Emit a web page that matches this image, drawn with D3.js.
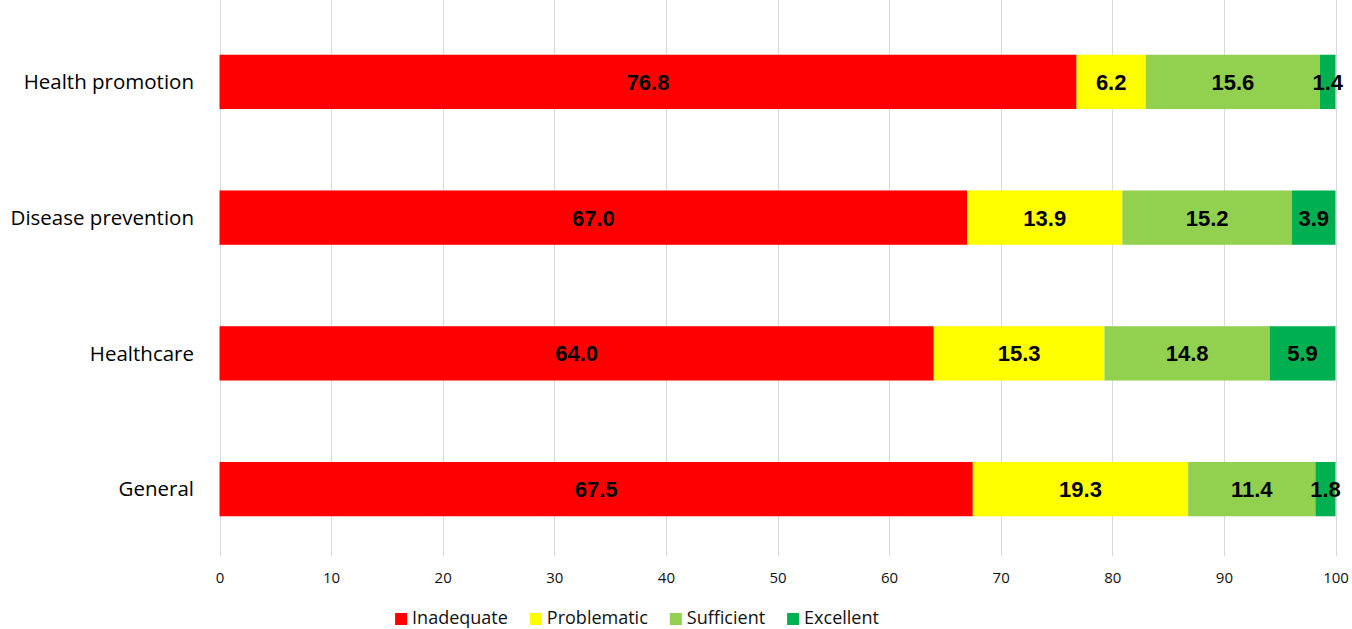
<!DOCTYPE html>
<html>
<head>
<meta charset="utf-8">
<script src="https://cdnjs.cloudflare.com/ajax/libs/d3/7.8.5/d3.min.js"></script>
<style>
  body { margin: 0; background: #fff; }
  svg { display: block; }
</style>
</head>
<body>
<div class="canvas"></div>
<script>
// data
const categories = ['Health promotion', 'Disease prevention', 'Healthcare', 'General']
const levels = ['Inadequate', 'Problematic', 'Sufficient', 'Excellent']
const inadequate = [76.8, 67.0, 64.0, 67.5]
const problematic = [6.2, 13.9, 15.3, 19.3]
const sufficient = [15.6, 15.2, 14.8, 11.4]
const excellent = [1.4, 3.9, 5.9, 1.8]
const xTicks = [0, 10, 20, 30, 40, 50, 60, 70, 80, 90, 100]

const colors = ['#ff0000', '#ffff00', '#92d050', '#00b050']

// graph setup
const dims = { width: 1352, height: 629 }

const svg = d3.select('.canvas')
  .append('svg')
  .attr('width', dims.width)
  .attr('height', dims.height)

const x = d3.scaleLinear()
  .domain([0, 100])
  .range([219.5, 1335.5])

const y = d3.scaleBand()
  .domain(categories)
  .range([14, 557])
  .paddingInner(0.6)
  .paddingOuter(0.3)

// table for stacking
const table = categories.map((c, i) => ({
  category: c,
  Inadequate: inadequate[i],
  Problematic: problematic[i],
  Sufficient: sufficient[i],
  Excellent: excellent[i]
}))
const stacked = d3.stack().keys(levels)(table)

// gridlines
svg.append('g')
  .selectAll('line')
  .data(xTicks)
  .enter()
  .append('line')
  .attr('x1', d => Math.round(x(d)) + 0.5)
  .attr('x2', d => Math.round(x(d)) + 0.5)
  .attr('y1', 0)
  .attr('y2', 556)
  .attr('stroke', '#d9d9d9')
  .attr('stroke-width', 1)

// x axis labels
const xAxis = d3.axisBottom(x).tickValues(xTicks).tickSize(0).tickPadding(0)
const xg = svg.append('g')
  .attr('transform', 'translate(0,572)')
  .call(xAxis)
xg.select('.domain').remove()
xg.selectAll('text')
  .attr('font-family', 'Open Sans, Noto Sans, sans-serif')
  .attr('font-size', 15)
  .attr('fill', '#111')
  .attr('dy', '0.71em')

// category labels
svg.append('g')
  .selectAll('text')
  .data(categories)
  .enter()
  .append('text')
  .attr('x', 194)
  .attr('y', d => y(d) + y.bandwidth() / 2)
  .attr('dy', '0.35em')
  .attr('text-anchor', 'end')
  .attr('font-family', 'Open Sans, Noto Sans, sans-serif')
  .attr('font-size', 20.5)
  .attr('fill', '#000')
  .text(d => d)

// bars
const layers = svg.append('g')
  .selectAll('g')
  .data(stacked)
  .enter()
  .append('g')
  .attr('fill', (d, i) => colors[i])

layers.selectAll('rect')
  .data(d => d)
  .enter()
  .append('rect')
  .attr('x', d => x(d[0]))
  .attr('y', d => y(d.data.category))
  .attr('width', d => x(d[1]) - x(d[0]))
  .attr('height', y.bandwidth())

// value labels
const labels = svg.append('g')
  .selectAll('g')
  .data(stacked)
  .enter()
  .append('g')

labels.selectAll('text')
  .data(d => d.map(s => ({ s, key: d.key })))
  .enter()
  .append('text')
  .attr('x', d => x((d.s[0] + d.s[1]) / 2))
  .attr('y', d => y(d.s.data.category) + y.bandwidth() / 2)
  .attr('dy', '0.36em')
  .attr('text-anchor', 'middle')
  .attr('font-family', 'Liberation Sans, Arial, sans-serif')
  .attr('font-weight', 'bold')
  .attr('font-size', 22)
  .attr('fill', '#000')
  .text(d => d.s.data[d.key].toFixed(1))

// legend
const legend = svg.append('g')
  .attr('transform', 'translate(0,618)')

const items = legend.selectAll('g')
  .data(levels)
  .enter()
  .append('g')

items.append('rect')
  .attr('width', 12)
  .attr('height', 12)
  .attr('y', -5)
  .attr('fill', (d, i) => colors[i])

items.append('text')
  .attr('x', 17)
  .attr('dy', '0.35em')
  .attr('font-family', 'Open Sans, Noto Sans, sans-serif')
  .attr('font-size', 18)
  .attr('fill', '#111')
  .text(d => d)

// lay legend items out by measured widths
let offset = 0
const widths = []
items.each(function() {
  widths.push(this.querySelector('text').getComputedTextLength() + 17)
})
const gap = 22
const total = d3.sum(widths) + gap * (widths.length - 1)
let start = 637 - total / 2
items.attr('transform', (d, i) => {
  const tx = start + offset
  offset += widths[i] + gap
  return `translate(${tx},0)`
})
</script>
</body>
</html>
